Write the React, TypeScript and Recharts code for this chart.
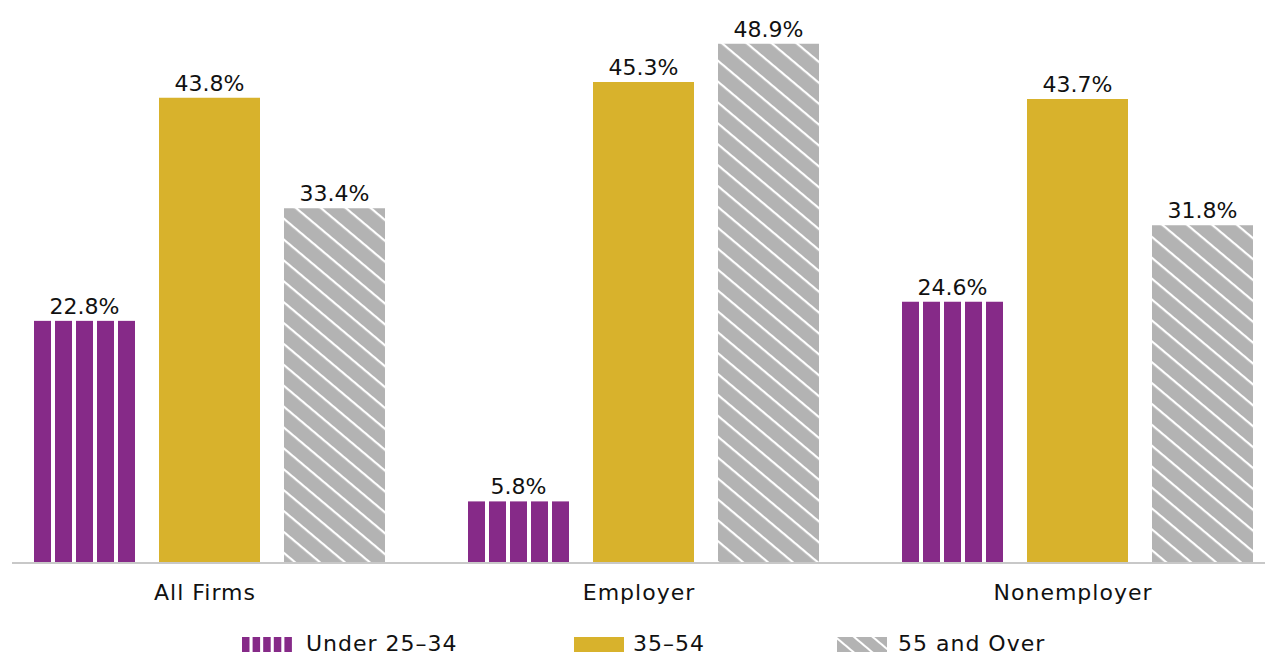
import { BarChart, Bar, XAxis, YAxis, Legend } from "recharts";

const categories = ["All Firms", "Employer", "Nonemployer"];
const under2534 = [22.8, 5.8, 24.6];
const age3554 = [43.8, 45.3, 43.7];
const over55 = [33.4, 48.9, 31.8];

const data = categories.map((name, i) => ({
  name,
  under: under2534[i],
  mid: age3554[i],
  over: over55[i],
}));

const PURPLE = "#862a88";
const GOLD = "#d8b22c";
const GRAY = "#b3b3b3";
const FONT = "'DejaVu Sans', sans-serif";

// five vertical stripes filling the bar
function StripedBar(props: any) {
  const { x, y, width, height } = props;
  const gap = 4;
  const w = (width - gap * 4) / 5;
  return (
    <g>
      {[0, 1, 2, 3, 4].map((i) => (
        <rect key={i} x={x + i * (w + gap)} y={y} width={w} height={height} fill={PURPLE} />
      ))}
    </g>
  );
}

function ValueLabel(props: any) {
  const { x, y, width, value } = props;
  return (
    <text
      x={x + width / 2}
      y={y - 7}
      textAnchor="middle"
      fontSize={22}
      fontFamily={FONT}
      fill="#111"
    >
      {Number(value).toFixed(1)}%
    </text>
  );
}

const legendItems = [
  { label: "Under 25–34", kind: "stripe", left: 242, gap: 14 },
  { label: "35–54", kind: "solid", left: 574, gap: 9 },
  { label: "55 and Over", kind: "hatch", left: 837, gap: 11 },
];

function LegendIcon({ kind }: { kind: string }) {
  if (kind === "stripe") {
    return (
      <svg width={50} height={15} style={{ display: "block" }}>
        {[0, 1, 2, 3, 4].map((i) => (
          <rect key={i} x={i * 10.6} y={0} width={7.5} height={15} fill={PURPLE} />
        ))}
      </svg>
    );
  }
  if (kind === "solid") {
    return (
      <svg width={50} height={15} style={{ display: "block" }}>
        <rect x={0} y={0} width={50} height={15} fill={GOLD} />
      </svg>
    );
  }
  return (
    <svg width={50} height={15} style={{ display: "block" }}>
      <rect x={0} y={0} width={50} height={15} fill="url(#hatchLegend)" />
    </svg>
  );
}

function renderLegend() {
  return (
    <div style={{ position: "relative", height: 42, width: 1265 }}>
      {legendItems.map((it) => (
        <div
          key={it.label}
          style={{
            position: "absolute",
            left: it.left,
            top: 19,
            height: 24,
            display: "flex",
            alignItems: "center",
          }}
        >
          <LegendIcon kind={it.kind} />
          <span
            style={{
              marginLeft: it.gap,
              fontSize: 22,
              lineHeight: "24px",
              fontFamily: FONT,
              letterSpacing: 1,
              color: "#111",
              whiteSpace: "nowrap",
            }}
          >
            {it.label}
          </span>
        </div>
      ))}
    </div>
  );
}

export default function App() {
  return (
    <div
      style={{
        position: "fixed",
        left: 0,
        top: 0,
        width: 1265,
        height: 655,
        overflow: "hidden",
        background: "#fff",
      }}
    >
      <svg width={0} height={0} style={{ position: "absolute" }}>
        <defs>
          <pattern
            id="hatch"
            patternUnits="userSpaceOnUse"
            width={16}
            height={16}
            patternTransform="rotate(40)"
          >
            <rect x={0} y={0} width={16} height={16} fill={GRAY} />
            <rect x={0} y={0} width={16} height={2.2} fill="#fff" />
          </pattern>
          <pattern
            id="hatchLegend"
            patternUnits="userSpaceOnUse"
            width={12}
            height={12}
            patternTransform="rotate(40)"
          >
            <rect x={0} y={0} width={12} height={12} fill={GRAY} />
            <rect x={0} y={0} width={12} height={2} fill="#fff" />
          </pattern>
        </defs>
      </svg>
      <BarChart
        width={1265}
        height={655}
        data={data}
        margin={{ top: 32, right: 0, bottom: 0, left: 12 }}
        barSize={101}
        barGap={24}
      >
        <XAxis
          dataKey="name"
          padding={{ left: -20, right: -29 }}
          axisLine={{ stroke: "#c8c8c8", strokeWidth: 2 }}
          tickLine={false}
          tickMargin={15}
          height={50}
          tick={{ fontSize: 22, fontFamily: FONT, fill: "#111", letterSpacing: 1, dx: -4 }}
        />
        <YAxis hide domain={[0, 50]} />
        <Legend verticalAlign="bottom" height={42} content={renderLegend} wrapperStyle={{ left: 0, width: 1265 }} />
        <Bar dataKey="under" name="Under 25–34" fill={PURPLE} shape={<StripedBar />} label={<ValueLabel />} isAnimationActive={false} />
        <Bar dataKey="mid" name="35–54" fill={GOLD} label={<ValueLabel />} isAnimationActive={false} />
        <Bar dataKey="over" name="55 and Over" fill="url(#hatch)" label={<ValueLabel />} isAnimationActive={false} />
      </BarChart>
    </div>
  );
}
